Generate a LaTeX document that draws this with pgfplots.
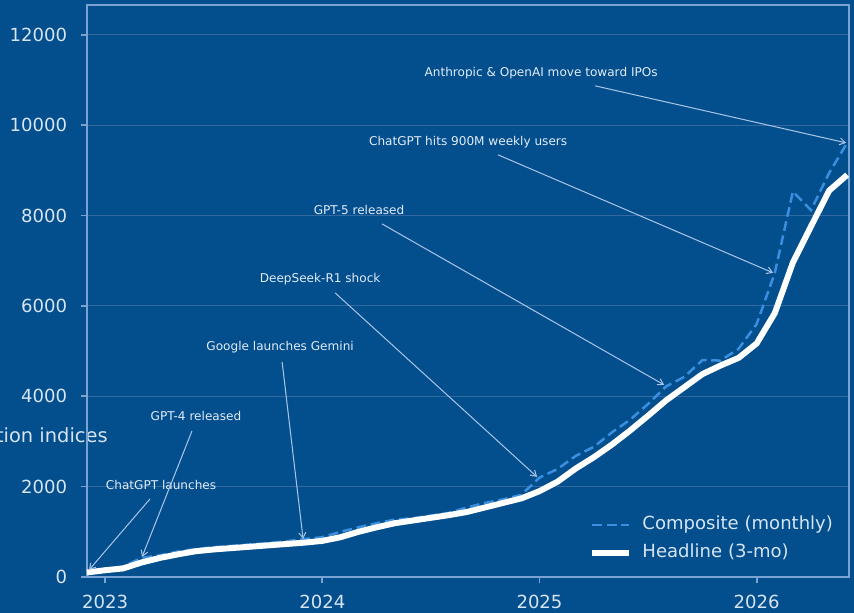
\documentclass[border=0pt]{standalone}
\usepackage{fontspec}
\setmainfont{DejaVu Sans}
\usepackage{pgfplots}
\pgfplotsset{compat=1.18}
\usetikzlibrary{arrows.meta}

\definecolor{bg}{RGB}{3,78,140}
\definecolor{gridc}{RGB}{52,105,160}
\definecolor{framec}{RGB}{122,163,212}
\definecolor{tickc}{RGB}{214,228,243}
\definecolor{notec}{RGB}{226,236,248}
\definecolor{arrowc}{RGB}{167,195,230}
\definecolor{compc}{RGB}{58,143,224}

% annotation text at (x,y)
\newcommand\note[3]{%
  \node[text=notec, font=\fontsize{8.7bp}{10bp}\selectfont, inner sep=0pt] at (axis cs:#1,#2) {#3};
}
% annotation arrow from (x1,y1) to (x2,y2)
\newcommand\arr[4]{%
  \draw[arrowc, line width=0.75bp, -{Straight Barb[length=4bp,width=5bp]}] (axis cs:#1,#2) -- (axis cs:#3,#4);
}

\begin{document}
\begin{tikzpicture}
\fill[bg] (0,0) rectangle (614.88bp,441.36bp);
\useasboundingbox (0,0) rectangle (614.88bp,441.36bp);
\begin{scope}
  \clip (0,0) rectangle (614.88bp,441.36bp);
  \node[anchor=east, text=tickc, inner sep=0pt, font=\fontsize{14bp}{16bp}\selectfont] at (77.76bp,126.72bp) {AI adoption indices};
\end{scope}
\begin{axis}[
    at={(62.64bp,25.92bp)}, anchor=south west,
    width=548.64bp, height=411.84bp, scale only axis,
    xmin=0, xmax=42.1,
    ymin=0, ymax=12660,
    xtick={1,13,25,37}, xticklabels={2023,2024,2025,2026},
    ytick={0,2000,4000,6000,8000,10000,12000},
    scaled y ticks=false,
    /pgf/number format/1000 sep={},
    /pgf/number format/assume math mode=true,
    ymajorgrids=true,
    grid style={gridc, line width=0.8bp},
    axis line style={framec, line width=1.3bp},
    tick align=outside, xtick pos=bottom, ytick pos=left,
    major tick length=4.3bp,
    tick style={framec, line width=1.2bp},
    tick label style={text=tickc, font=\fontsize{13bp}{15bp}\selectfont},
    yticklabel style={inner sep=0pt, xshift=-9.8bp},
    xticklabel style={inner sep=0pt, yshift=-8.2bp},
    clip=false,
    legend image code/.code={\draw[#1] (0bp,0bp) -- (26bp,0bp);},
    legend cell align=left,
    legend style={draw=none, fill=none, inner sep=0pt,
        at={(rel axis cs:0.659,0.0664)}, anchor=west,
        text=tickc, font=\fontsize{13bp}{15bp}\selectfont,
        nodes={inner sep=0pt, text height=10bp, text depth=3bp},
        row sep=7.2bp,
        /tikz/every odd column/.append style={column sep=7.9bp}},
]

\addplot[compc, line width=1.8bp, dash pattern=on 7bp off 3.4bp]
  coordinates {
  (0,120)(1,180)(2,230)(3,420)(4,480)(5,560)(6,620)(7,660)(8,690)(9,720)
  (10,750)(11,790)(12,840)(13,880)(14,1000)(15,1100)(16,1190)(17,1270)(18,1300)(19,1360)
  (20,1420)(21,1540)(22,1640)(23,1720)(24,1820)(25,2200)(26,2390)(27,2680)(28,2880)(29,3200)
  (30,3480)(31,3830)(32,4220)(33,4430)(34,4800)(35,4790)(36,5050)(37,5600)(38,6730)(39,8530)
  (40,8120)(41,8940)(42,9610)
  };
\addlegendentry{Composite (monthly)}

\addplot[white, line width=4.3bp, line join=round]
  coordinates {
  (0,100)(1,150)(2,190)(3,320)(4,420)(5,500)(6,570)(7,610)(8,640)(9,670)
  (10,700)(11,730)(12,760)(13,800)(14,880)(15,1000)(16,1100)(17,1190)(18,1250)(19,1310)
  (20,1370)(21,1440)(22,1540)(23,1640)(24,1740)(25,1900)(26,2110)(27,2400)(28,2650)(29,2930)
  (30,3240)(31,3570)(32,3910)(33,4200)(34,4490)(35,4680)(36,4850)(37,5170)(38,5840)(39,6960)
  (40,7760)(41,8550)(42,8900)
  };
\addlegendentry{Headline (3-mo)}

\note{4.09}{2037}{ChatGPT launches}
\arr{3.48}{1727}{0.11}{155}
\note{6.02}{3565}{GPT-4 released}
\arr{5.80}{3232}{3.04}{443}
\note{10.67}{5092}{Google launches Gemini}
\arr{10.78}{4760}{11.94}{841}
\note{12.88}{6598}{DeepSeek-R1 shock}
\arr{13.71}{6288}{24.87}{2214}
\note{15.03}{8126}{GPT-5 released}
\arr{16.30}{7815}{31.89}{4251}
\note{21.06}{9631}{ChatGPT hits 900M weekly users}
\arr{22.71}{9343}{37.91}{6731}
\note{25.09}{11159}{Anthropic \& OpenAI move toward IPOs}
\arr{28.07}{10871}{41.94}{9609}

\end{axis}
\end{tikzpicture}
\end{document}
